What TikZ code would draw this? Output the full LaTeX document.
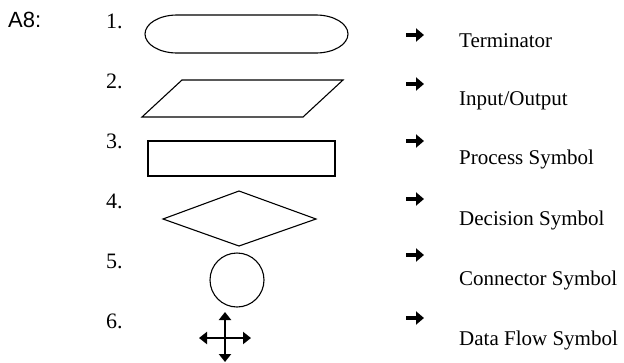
\documentclass[tikz,border=0pt]{standalone}
\usepackage{fontspec}
\setmainfont{Liberation Serif}
\newfontfamily\sansA{Liberation Sans}
\usetikzlibrary{arrows.meta}
\begin{document}
\begin{tikzpicture}[x=1pt,y=-1pt,
  shp/.style={draw=black,line width=1.1pt},
  num/.style={anchor=base west,inner sep=0pt,font=\fontsize{22}{26}\selectfont},
  lbl/.style={anchor=base west,inner sep=0pt,font=\fontsize{21}{25}\selectfont},
  pointer/.style={line width=3.6pt,-{Triangle[length=8pt,width=13pt]}},
  flow/.style={line width=2.8pt,{Triangle[length=8pt,width=12pt]}-{Triangle[length=8pt,width=12pt]}}]
\useasboundingbox (0,0) rectangle (624,362);
\node[anchor=base west,inner sep=0pt,font=\sansA\fontsize{22}{26}\selectfont] (a8) at (8,27) {A8:};
% numbers
\node[num] (n1) at (106,28) {1.};
\node[num] (n2) at (106,88) {2.};
\node[num] (n3) at (106,148) {3.};
\node[num] (n4) at (106,208) {4.};
\node[num] (n5) at (106,268) {5.};
\node[num] (n6) at (106,328) {6.};
% shapes
\draw[shp] (177,15) -- (316,15) arc[start angle=90,end angle=-90,x radius=32pt,y radius=19pt]
  -- (177,53) arc[start angle=270,end angle=90,x radius=32pt,y radius=19pt] -- cycle;
\draw[shp] (182,80) -- (343,80) -- (303,117) -- (142,117) -- cycle;
\draw[shp] (148,141) rectangle (335,176);
\draw[shp] (163,219) -- (239,191) -- (316,219) -- (239,246) -- cycle;
\draw[shp] (237,280) circle[radius=27pt];
\coordinate (c) at (225,338);
\draw[flow] (199,338) -- (251,338);
\draw[flow] (225,312) -- (225,362);
% pointers
\foreach \y in {35,84,141,199,255,318}{
  \draw[pointer] (406,\y) -- (424,\y);
}
% labels
\node[lbl] (l1) at (459,47) {Terminator};
\node[lbl] (l2) at (459,105) {Input/Output};
\node[lbl] (l3) at (459,164) {Process Symbol};
\node[lbl] (l4) at (459,225) {Decision Symbol};
\node[lbl] (l5) at (459,285) {Connector Symbol};
\node[lbl] (l6) at (459,345) {Data Flow Symbol};
\end{tikzpicture}
\end{document}
